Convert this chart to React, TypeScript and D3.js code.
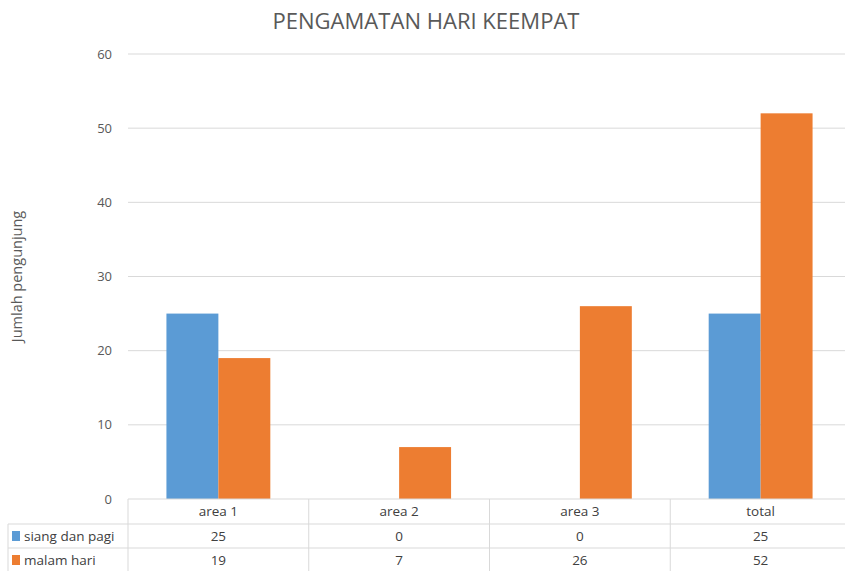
import React from "react";
import * as d3 from "d3";

const categories = ["area 1", "area 2", "area 3", "total"];
const seriesNames = ["siang dan pagi", "malam hari"];
const siangDanPagi = [25, 0, 0, 25];
const malamHari = [19, 7, 26, 52];
const yTicks = [0, 10, 20, 30, 40, 50, 60];
const colors = ["#5b9bd5", "#ed7d31"];
const title = "PENGAMATAN HARI KEEMPAT";
const yLabel = "Jumlah pengunjung";

export default function App() {
  const W = 845, H = 571;
  const left = 128, right = 851, top = 54, bottom = 499;
  const font = "'Open Sans', 'Noto Sans', sans-serif";
  const x = d3.scaleBand().domain(categories).range([left, right]).paddingInner(0).paddingOuter(0);
  const y = d3.scaleLinear().domain([0, 60]).range([bottom, top]);
  const inner = d3.scaleBand().domain(seriesNames).range([0, x.bandwidth()]).paddingInner(0).paddingOuter(0.74);
  const series = [siangDanPagi, malamHari];
  const rows = [bottom, bottom + 25, bottom + 49, H];
  return (
    <svg width={W} height={H} style={{ position: "absolute", left: 0, top: 0, background: "#fff" }} fontFamily={font}>
      <text x={426} y={29} textAnchor="middle" fontSize={21} fill="#595959" textLength={307} lengthAdjust="spacingAndGlyphs">{title}</text>
      <text transform={`translate(22,${(top + bottom) / 2}) rotate(-90)`} textAnchor="middle" fontSize={14.5} fill="#595959">{yLabel}</text>
      {yTicks.map((t) => (
        <g key={t}>
          {t > 0 && <line x1={left} x2={right} y1={y(t)} y2={y(t)} stroke="#d9d9d9" strokeWidth={1} />}
          <text x={112} y={y(t) + 4.5} textAnchor="end" fontSize={13} fill="#595959">{t}</text>
        </g>
      ))}
      {series.map((vals, si) =>
        categories.map((c, ci) => (
          <rect key={`${si}-${ci}`} x={(x(c) ?? 0) + (inner(seriesNames[si]) ?? 0)} y={y(vals[ci])} width={inner.bandwidth()} height={bottom - y(vals[ci])} fill={colors[si]} />
        ))
      )}
      {/* data table */}
      <line x1={left} x2={right} y1={rows[0]} y2={rows[0]} stroke="#d9d9d9" />
      <line x1={8} x2={right} y1={rows[1]} y2={rows[1]} stroke="#d9d9d9" />
      <line x1={8} x2={right} y1={rows[2]} y2={rows[2]} stroke="#d9d9d9" />
      <line x1={8} x2={8} y1={rows[1]} y2={H} stroke="#d9d9d9" />
      {categories.map((c) => (
        <line key={c} x1={x(c)} x2={x(c)} y1={rows[0]} y2={H} stroke="#d9d9d9" />
      ))}
      {categories.map((c) => (
        <text key={c} x={(x(c) ?? 0) + x.bandwidth() / 2} y={rows[0] + 17} textAnchor="middle" fontSize={13.5} fill="#404040">{c}</text>
      ))}
      {series.map((vals, si) => (
        <g key={si}>
          <rect x={12} y={rows[si + 1] + 7} width={8} height={10} fill={colors[si]} />
          <text x={24} y={rows[si + 1] + 17} fontSize={13.5} fill="#404040">{seriesNames[si]}</text>
          {categories.map((c, ci) => (
            <text key={c} x={(x(c) ?? 0) + x.bandwidth() / 2} y={rows[si + 1] + 17} textAnchor="middle" fontSize={13.5} fill="#404040">{vals[ci]}</text>
          ))}
        </g>
      ))}
    </svg>
  );
}
